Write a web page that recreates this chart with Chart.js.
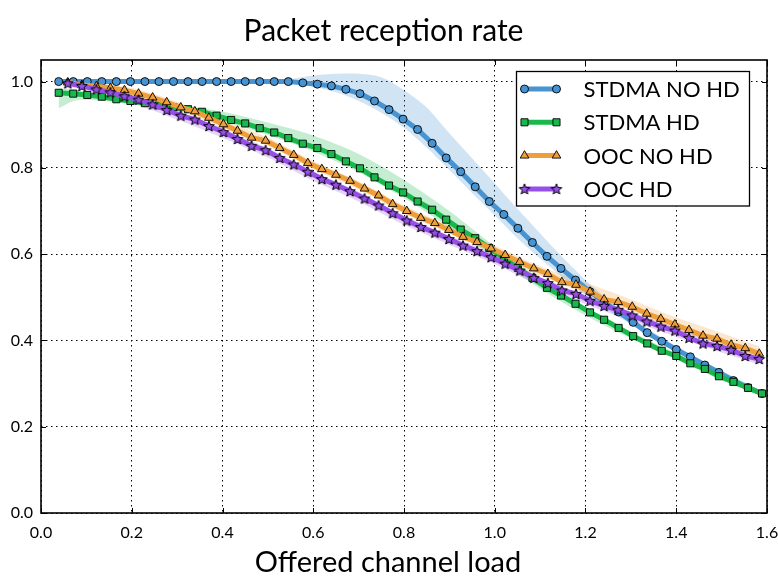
<!DOCTYPE html>
<html>
<head>
<meta charset="utf-8">
<script src="https://cdn.jsdelivr.net/npm/chart.js@4.4.1/dist/chart.umd.min.js"></script>
<style>
  body { margin: 0; background: #fff; }
  canvas { display: block; }
</style>
</head>
<body>
<canvas id="myChart" width="778" height="581"></canvas>
<script>
// offered channel load (x) for the STDMA runs and for the OOC runs
var loadStdma = [0.039, 0.071, 0.102, 0.134, 0.166, 0.197, 0.229, 0.260, 0.292, 0.324,
                 0.355, 0.387, 0.419, 0.450, 0.482, 0.514, 0.545, 0.577, 0.609, 0.640,
                 0.672, 0.703, 0.735, 0.767, 0.798, 0.830, 0.862, 0.893, 0.925, 0.957,
                 0.988, 1.020, 1.051, 1.083, 1.115, 1.146, 1.178, 1.210, 1.241, 1.273,
                 1.305, 1.336, 1.368, 1.400, 1.431, 1.463, 1.494, 1.526, 1.558, 1.589]
var loadOoc = [0.059, 0.090, 0.122, 0.153, 0.184, 0.215, 0.246, 0.277, 0.308, 0.339,
               0.370, 0.402, 0.433, 0.464, 0.495, 0.526, 0.557, 0.588, 0.619, 0.650,
               0.681, 0.713, 0.744, 0.775, 0.806, 0.837, 0.868, 0.899, 0.930, 0.961,
               0.992, 1.023, 1.055, 1.086, 1.117, 1.148, 1.179, 1.210, 1.241, 1.272,
               1.303, 1.335, 1.366, 1.397, 1.428, 1.459, 1.490, 1.521, 1.552, 1.583]

var stdmaNoHd = [1.000, 1.000, 1.000, 1.000, 1.000, 1.000, 1.000, 1.000, 1.000, 1.000,
                 1.000, 1.000, 1.000, 1.000, 1.000, 1.000, 1.000, 0.997, 0.994, 0.990,
                 0.982, 0.972, 0.955, 0.935, 0.913, 0.889, 0.857, 0.823, 0.791, 0.756,
                 0.722, 0.692, 0.660, 0.627, 0.595, 0.567, 0.540, 0.513, 0.489, 0.466,
                 0.442, 0.418, 0.398, 0.379, 0.362, 0.343, 0.326, 0.307, 0.291, 0.277]
var stdmaHd = [0.974, 0.972, 0.969, 0.965, 0.959, 0.955, 0.950, 0.945, 0.941, 0.936,
               0.930, 0.921, 0.911, 0.903, 0.892, 0.882, 0.869, 0.856, 0.846, 0.832,
               0.815, 0.799, 0.778, 0.759, 0.743, 0.722, 0.703, 0.680, 0.657, 0.637,
               0.614, 0.591, 0.568, 0.545, 0.522, 0.504, 0.485, 0.465, 0.448, 0.429,
               0.410, 0.393, 0.376, 0.364, 0.347, 0.334, 0.317, 0.304, 0.290, 0.277]
var oocNoHd = [0.998, 0.992, 0.989, 0.985, 0.980, 0.972, 0.963, 0.952, 0.940, 0.931,
               0.916, 0.901, 0.886, 0.870, 0.863, 0.846, 0.830, 0.811, 0.797, 0.784,
               0.770, 0.752, 0.736, 0.716, 0.700, 0.684, 0.672, 0.656, 0.640, 0.628,
               0.613, 0.598, 0.582, 0.567, 0.554, 0.535, 0.529, 0.513, 0.495, 0.489,
               0.478, 0.462, 0.450, 0.437, 0.424, 0.411, 0.404, 0.390, 0.382, 0.369]
var oocHd = [0.996, 0.990, 0.982, 0.975, 0.966, 0.958, 0.947, 0.934, 0.921, 0.912,
             0.897, 0.883, 0.867, 0.851, 0.841, 0.823, 0.808, 0.791, 0.774, 0.761,
             0.746, 0.729, 0.713, 0.695, 0.678, 0.663, 0.650, 0.635, 0.620, 0.607,
             0.593, 0.578, 0.562, 0.545, 0.533, 0.516, 0.508, 0.492, 0.480, 0.471,
             0.458, 0.444, 0.432, 0.423, 0.406, 0.393, 0.387, 0.378, 0.364, 0.357]

// confidence bands (upper / lower edge), read at fewer loads
var stdmaNoHdBandX = [0.50, 0.55, 0.60, 0.65, 0.70, 0.75, 0.80, 0.85, 0.90, 0.95, 1.00, 1.05, 1.10, 1.15, 1.20, 1.25, 1.30, 1.40, 1.50, 1.589]
var stdmaNoHdUpper = [1.002, 1.006, 1.014, 1.018, 1.018, 1.010, 0.980, 0.940, 0.880, 0.822, 0.764, 0.705, 0.648, 0.592, 0.540, 0.494, 0.453, 0.386, 0.330, 0.283]
var stdmaNoHdLower = [0.998, 0.996, 0.988, 0.975, 0.955, 0.928, 0.893, 0.847, 0.795, 0.742, 0.690, 0.637, 0.590, 0.546, 0.506, 0.470, 0.437, 0.372, 0.316, 0.271]

var stdmaHdBandX = [0.039, 0.071, 0.10, 0.20, 0.30, 0.40, 0.50, 0.60, 0.70, 0.80, 0.90, 1.00, 1.10, 1.20, 1.30, 1.40, 1.50, 1.589]
var stdmaHdUpper = [0.984, 0.982, 0.976, 0.962, 0.948, 0.930, 0.905, 0.875, 0.832, 0.772, 0.700, 0.618, 0.543, 0.477, 0.420, 0.370, 0.320, 0.282]
var stdmaHdLower = [0.938, 0.955, 0.958, 0.948, 0.932, 0.908, 0.876, 0.838, 0.790, 0.730, 0.662, 0.592, 0.520, 0.458, 0.405, 0.356, 0.308, 0.270]

var oocBandX = [0.059, 0.20, 0.30, 0.40, 0.50, 0.60, 0.70, 0.80, 0.90, 1.00, 1.10, 1.20, 1.30, 1.40, 1.50, 1.583]
var oocNoHdUpper = [1.005, 0.985, 0.953, 0.911, 0.870, 0.816, 0.769, 0.713, 0.666, 0.620, 0.572, 0.534, 0.495, 0.453, 0.417, 0.386]
var oocNoHdLower = [0.990, 0.966, 0.934, 0.892, 0.851, 0.797, 0.750, 0.694, 0.647, 0.600, 0.550, 0.508, 0.468, 0.426, 0.390, 0.360]
var oocHdUpper = [1.002, 0.970, 0.933, 0.891, 0.845, 0.792, 0.744, 0.689, 0.643, 0.598, 0.547, 0.505, 0.467, 0.429, 0.393, 0.365]
var oocHdLower = [0.990, 0.950, 0.912, 0.870, 0.824, 0.770, 0.722, 0.668, 0.622, 0.577, 0.526, 0.484, 0.446, 0.408, 0.372, 0.344]

var xTicks = [0.0, 0.2, 0.4, 0.6, 0.8, 1.0, 1.2, 1.4, 1.6]
var yTicks = [0.0, 0.2, 0.4, 0.6, 0.8, 1.0]

var seriesNames = ["STDMA NO HD", "STDMA HD", "OOC NO HD", "OOC HD"]
var colors = ["rgb(72,148,210)", "rgb(24,184,76)", "rgb(240,158,58)", "rgb(150,80,232)"]
var bandColors = ["rgba(72,148,210,0.25)", "rgba(24,184,76,0.25)", "rgba(240,158,58,0.25)", "rgba(150,80,232,0.25)"]

function pts(xs, ys) {
    var out = []
    for (var i = 0; i < xs.length; i++) out.push({x: xs[i], y: ys[i]})
    return out
}

// filled 5 point star like matplotlib's '*' marker
function starImage(fill) {
    var c = document.createElement('canvas')
    c.width = 14; c.height = 14
    var g = c.getContext('2d')
    g.beginPath()
    for (var k = 0; k < 10; k++) {
        var r = (k % 2 == 0) ? 5.6 : 2.4
        var a = -Math.PI / 2 + k * Math.PI / 5
        var px = 7 + r * Math.cos(a), py = 7.5 + r * Math.sin(a)
        if (k == 0) g.moveTo(px, py); else g.lineTo(px, py)
    }
    g.closePath()
    g.fillStyle = fill
    g.fill()
    g.lineWidth = 1
    g.strokeStyle = '#000'
    g.stroke()
    return c
}

var starMarker = starImage(colors[3])

function band(xs, up, lo, color) {
    return [
        {data: pts(xs, up), borderWidth: 0, pointRadius: 0, backgroundColor: color, fill: '+1', order: 20, tension: 0.3},
        {data: pts(xs, lo), borderWidth: 0, pointRadius: 0, backgroundColor: color, fill: false, order: 20, tension: 0.3}
    ]
}

function line(name, xs, ys, color, style, radius, order) {
    return {
        label: name, data: pts(xs, ys), borderColor: color, borderWidth: 5,
        pointStyle: style, pointRadius: radius, pointBackgroundColor: color,
        pointBorderColor: '#000', pointBorderWidth: 0.9, fill: false, order: order, isSeries: true
    }
}

var datasets = []
datasets = datasets.concat(band(stdmaNoHdBandX, stdmaNoHdUpper, stdmaNoHdLower, bandColors[0]))
datasets = datasets.concat(band(stdmaHdBandX, stdmaHdUpper, stdmaHdLower, bandColors[1]))
datasets = datasets.concat(band(oocBandX, oocNoHdUpper, oocNoHdLower, bandColors[2]))
datasets = datasets.concat(band(oocBandX, oocHdUpper, oocHdLower, bandColors[3]))
datasets.push(line(seriesNames[0], loadStdma, stdmaNoHd, colors[0], 'circle', 4, 4))
datasets.push(line(seriesNames[1], loadStdma, stdmaHd, colors[1], 'rect', 5, 3))
datasets.push(line(seriesNames[2], loadOoc, oocNoHd, colors[2], 'triangle', 5, 2))
datasets.push(line(seriesNames[3], loadOoc, oocHd, colors[3], starMarker, 5, 1))

// box around the plot + inward tick marks
var framePlugin = {
    id: 'frame',
    afterDatasetsDraw: function(chart) {
        var a = chart.chartArea, ctx = chart.ctx
        var xs = chart.scales.x, ys = chart.scales.y
        ctx.save()
        ctx.strokeStyle = '#000'
        ctx.lineWidth = 1
        xTicks.forEach(function(v) {
            var p = Math.round(xs.getPixelForValue(v)) + 0.5
            ctx.beginPath()
            ctx.moveTo(p, a.bottom); ctx.lineTo(p, a.bottom - 5)
            ctx.moveTo(p, a.top); ctx.lineTo(p, a.top + 5)
            ctx.stroke()
        })
        yTicks.forEach(function(v) {
            var p = Math.round(ys.getPixelForValue(v)) + 0.5
            ctx.beginPath()
            ctx.moveTo(a.left, p); ctx.lineTo(a.left + 5, p)
            ctx.moveTo(a.right, p); ctx.lineTo(a.right - 5, p)
            ctx.stroke()
        })
        ctx.lineWidth = 1.6
        ctx.strokeRect(a.left, a.top, a.right - a.left, a.bottom - a.top)

        // x axis label, sits a little left of the plot centre in the original
        ctx.fillStyle = '#000'
        ctx.font = '29px Lato'
        ctx.textAlign = 'center'
        ctx.textBaseline = 'middle'
        ctx.fillText('Offered channel load', 388, 563)
        ctx.restore()
    }
}

// legend box in the upper right, line with a marker at each end
var legendPlugin = {
    id: 'boxLegend',
    afterDraw: function(chart) {
        var ctx = chart.ctx
        var bx = 516.5, by = 71.5, bw = 233, bh = 134.5
        ctx.save()
        ctx.fillStyle = '#fff'
        ctx.fillRect(bx, by, bw, bh)
        ctx.strokeStyle = '#000'
        ctx.lineWidth = 1.3
        ctx.strokeRect(bx, by, bw, bh)
        var rows = chart.data.datasets.filter(function(d) { return d.isSeries })
        rows.forEach(function(d, i) {
            var y = by + 17.5 + i * 33.3
            var x1 = bx + 8, x2 = bx + 40
            ctx.strokeStyle = d.borderColor
            ctx.lineWidth = 5
            ctx.beginPath(); ctx.moveTo(x1, y); ctx.lineTo(x2, y); ctx.stroke()
            ;[x1, x2].forEach(function(px) {
                ctx.fillStyle = d.pointBackgroundColor
                ctx.strokeStyle = '#000'
                ctx.lineWidth = d.pointBorderWidth
                Chart.helpers.drawPoint(ctx, {pointStyle: d.pointStyle, radius: d.pointRadius, rotation: 0, borderWidth: d.pointBorderWidth}, px, y)
            })
            ctx.fillStyle = '#000'
            ctx.font = '22px Lato'
            ctx.textBaseline = 'middle'
            ctx.textAlign = 'left'
            ctx.fillText(d.label, bx + 67, y + 1)
        })
        ctx.restore()
    }
}

var myChart = document.getElementById("myChart").getContext('2d')

var chart = new Chart(myChart, {
    type: 'line',
    data: { datasets: datasets },
    plugins: [framePlugin, legendPlugin],
    options: {
        responsive: false,
        animation: false,
        layout: { padding: { left: 0, right: 11, top: 0, bottom: 0 } },
        plugins: {
            legend: { display: false },
            tooltip: { enabled: false },
            title: {
                display: true,
                text: 'Packet reception rate',
                color: '#000',
                font: { family: 'Lato', size: 30, weight: 'normal' },
                padding: { top: 13, bottom: 11 }
            }
        },
        scales: {
            x: {
                type: 'linear',
                min: 0, max: 1.6,
                afterFit: function(s) { s.height = 68; s.paddingLeft = 0; s.paddingRight = 0 },
                afterBuildTicks: function(s) { s.ticks = xTicks.map(function(v) { return {value: v} }) },
                grid: { color: '#000', lineWidth: 1, drawTicks: false },
                border: { display: false, dash: [1.5, 3.5] },
                ticks: {
                    color: '#000', padding: 10,
                    font: { family: 'Lato', size: 16 },
                    callback: function(v) { return v.toFixed(1) }
                }
            },
            y: {
                type: 'linear',
                min: 0, max: 1.05,
                afterFit: function(s) { s.width = 41; s.paddingTop = 0; s.paddingBottom = 0 },
                afterBuildTicks: function(s) { s.ticks = yTicks.map(function(v) { return {value: v} }) },
                grid: { color: '#000', lineWidth: 1, drawTicks: false },
                border: { display: false, dash: [1.5, 3.5] },
                ticks: {
                    color: '#000', padding: 8,
                    font: { family: 'Lato', size: 16 },
                    callback: function(v) { return v.toFixed(1) }
                }
            }
        }
    }
})
</script>
</body>
</html>
